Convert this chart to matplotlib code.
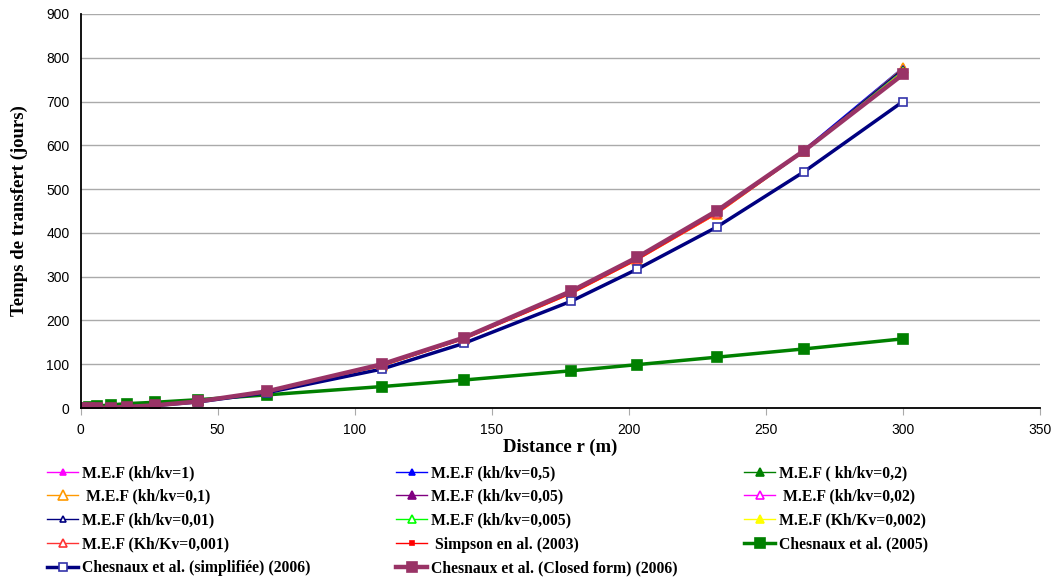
import matplotlib
matplotlib.use("Agg")
import matplotlib.pyplot as plt
from matplotlib.lines import Line2D

# Distance r (m)
r = [0, 3, 6, 11, 17, 27, 43, 68, 110, 140, 179, 203, 232, 264, 300]

# Temps de transfert (jours)
mef_1 = [0, 0.1, 0.3, 1.0, 2.4, 6.0, 15, 38, 98, 160, 264, 342, 448, 590, 776]
mef_05 = [0, 0.1, 0.3, 1.0, 2.4, 6.0, 15, 38, 98, 160, 265, 343, 449, 591, 778]
mef_02 = [0, 0.1, 0.3, 1.0, 2.4, 6.0, 15, 38, 97, 159, 263, 341, 447, 589, 774]
mef_01 = [0, 0.1, 0.3, 1.0, 2.3, 5.8, 15, 37, 96, 158, 261, 338, 443, 586, 777]
mef_005 = [0, 0.1, 0.3, 1.0, 2.4, 6.0, 15, 38, 97, 159, 263, 341, 446, 588, 772]
mef_002 = [0, 0.1, 0.3, 1.0, 2.4, 6.0, 15, 38, 97, 159, 263, 341, 446, 588, 771]
mef_001 = [0, 0.1, 0.3, 1.0, 2.4, 6.0, 15, 38, 97, 159, 264, 342, 447, 589, 775]
mef_0005 = [0, 0.1, 0.3, 1.0, 2.4, 6.0, 15, 38, 97, 159, 263, 341, 446, 588, 770]
mef_0002 = [0, 0.1, 0.3, 1.0, 2.3, 5.9, 15, 37, 96, 158, 262, 339, 444, 587, 768]
mef_0001 = [0, 0.1, 0.3, 1.0, 2.3, 5.9, 15, 37, 96, 157, 261, 338, 443, 586, 767]
simpson_2003 = [0, 0.1, 0.3, 1.0, 2.4, 6.0, 15, 38, 97, 158, 262, 339, 445, 587, 765]
chesnaux_2005 = [0, 2.5, 4.5, 7, 10, 13, 19, 30, 49, 64, 85, 99, 116, 135, 158]
chesnaux_simpl_2006 = [0, 0.1, 0.3, 0.9, 2.3, 5.6, 14, 35, 89, 148, 244, 317, 413, 540, 700]
chesnaux_closed_2006 = [0, 0.1, 0.3, 1.0, 2.5, 6.0, 15, 38, 100, 161, 267, 344, 450, 588, 762]

labels = [
    "M.E.F (kh/kv=1)", "M.E.F (kh/kv=0,5)", "M.E.F ( kh/kv=0,2)",
    " M.E.F (kh/kv=0,1)", "M.E.F (kh/kv=0,05)", " M.E.F (kh/kv=0,02)",
    "M.E.F (kh/kv=0,01)", "M.E.F (kh/kv=0,005)", "M.E.F (Kh/Kv=0,002)",
    "M.E.F (Kh/Kv=0,001)", " Simpson en al. (2003)", "Chesnaux et al. (2005)",
    "Chesnaux et al. (simplifiée) (2006)", "Chesnaux et al. (Closed form) (2006)",
]
series = [mef_1, mef_05, mef_02, mef_01, mef_005, mef_002, mef_001,
          mef_0005, mef_0002, mef_0001, simpson_2003, chesnaux_2005,
          chesnaux_simpl_2006, chesnaux_closed_2006]

# (line colour, marker, marker size, face colour, line width, edge colour)
styles = [
    ("#FF00FF", "^", 4, "#FF00FF", 1.0, "#FF00FF"),
    ("#0000FF", "^", 4, "#0000FF", 1.0, "#0000FF"),
    ("#008000", "^", 6, "#008000", 1.0, "#008000"),
    ("#FF9900", "^", 7, "white", 1.0, "#FF9900"),
    ("#800080", "^", 6, "#800080", 1.0, "#800080"),
    ("#FF00FF", "^", 6, "white", 1.0, "#FF00FF"),
    ("#000080", "^", 5, "white", 1.0, "#000080"),
    ("#00FF00", "^", 6, "white", 1.0, "#00FF00"),
    ("#FFFF00", "^", 6, "#FFFF00", 1.0, "#FFFF00"),
    ("#FF3333", "^", 6, "white", 1.0, "#FF3333"),
    ("#FF0000", "s", 3.5, "#FF0000", 1.0, "#FF0000"),
    ("#008000", "s", 7, "#008000", 2.5, "#008000"),
    ("#000080", "s", 6, "white", 2.5, "#3333AA"),
    ("#993366", "s", 7.5, "#993366", 3.2, "#993366"),
]

plt.rcParams["font.family"] = ["Liberation Sans", "DejaVu Sans"]
fig = plt.figure(figsize=(10.56, 5.79), dpi=100)
ax = fig.add_axes([80.5 / 1056, 1 - 408 / 579, (1040 - 80.5) / 1056, (408 - 14) / 579])

handles = []
for ys, lab, (c, m, ms, fc, lw, ec) in zip(series, labels, styles):
    kw = dict(color=c, lw=lw, marker=m, markersize=ms,
              markeredgecolor=ec, markeredgewidth=1.2, markerfacecolor=fc)
    ax.plot(r, ys, **kw)
    handles.append(Line2D([], [], **kw))

ax.set_xlim(0, 350)
ax.set_ylim(0, 900)
ax.set_xticks(range(0, 351, 50))
ax.set_yticks(range(0, 901, 100))
ax.grid(axis="y", color="#AAAAAA", lw=1)
ax.set_axisbelow(True)
for s in ("top", "right"):
    ax.spines[s].set_visible(False)
for s in ("left", "bottom"):
    ax.spines[s].set_color("black")
    ax.spines[s].set_linewidth(1.3)
ax.tick_params(axis="x", length=5, color="#AAAAAA", labelsize=10, pad=6)
ax.tick_params(axis="y", length=0, labelsize=10, pad=8)

serif_bold = dict(family=["Liberation Serif", "DejaVu Serif"], weight="bold", size=13.5)
ax.set_xlabel("Distance r (m)", labelpad=1, **serif_bold)
ax.set_ylabel("Temps de transfert (jours)", labelpad=13, **serif_bold)

# legend laid out row by row in three columns
legend_font = dict(family=["Liberation Serif", "DejaVu Serif"], weight="bold", size=11.3)
col_x = [47 / 1056, 396 / 1056, 744 / 1056]
for ci in range(3):
    idx = list(range(ci, len(handles), 3))
    fig.legend([handles[i] for i in idx], [labels[i] for i in idx],
               loc="upper left", bbox_to_anchor=(col_x[ci], 1 - 465 / 579),
               frameon=False, prop=legend_font, handlelength=2.0,
               handletextpad=0.25, labelspacing=0.5, borderaxespad=0,
               borderpad=0)

fig.savefig("out.png", dpi=100)
